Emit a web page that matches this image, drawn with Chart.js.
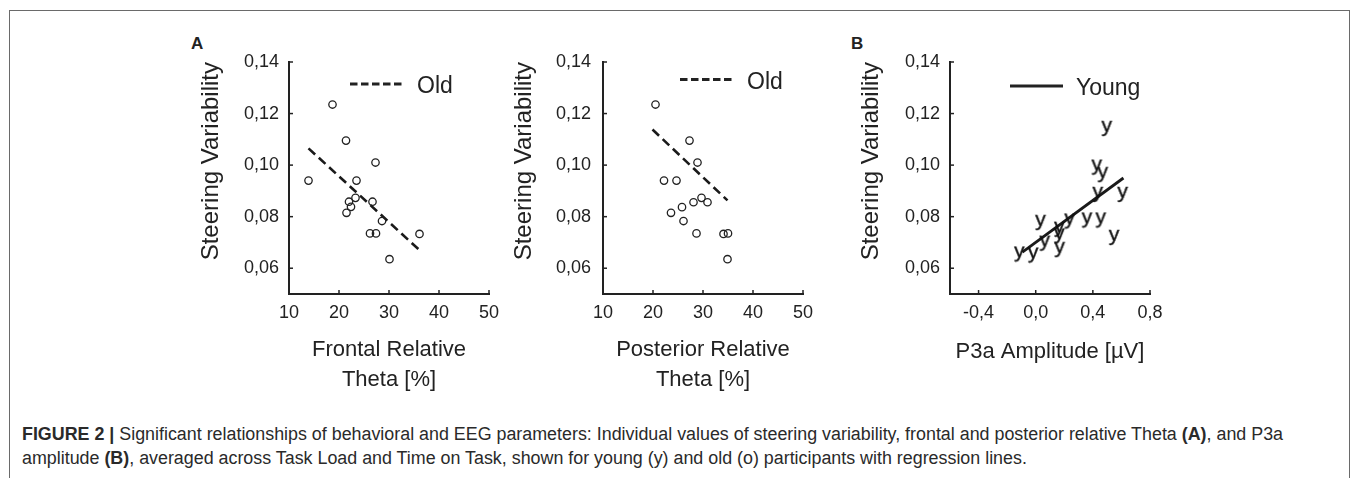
<!DOCTYPE html>
<html>
<head>
<meta charset="utf-8">
<script src="https://cdn.jsdelivr.net/npm/chart.js@4.4.1/dist/chart.umd.min.js"></script>
<style>
	body { margin: 0; background: #fff; width: 1355px; height: 478px; overflow: hidden; position: relative; }
	.frame { position: absolute; left: 9px; top: 10px; width: 1339px; height: 480px; border: 1.5px solid #6a6a6a; border-bottom: none; }
	canvas { position: absolute; top: 0; }
	.tag { position: absolute; font: bold 17px "Liberation Sans", Arial, sans-serif; color: #222; }
	.caption { position: absolute; left: 22px; top: 422px; font-family: "Liberation Sans", Arial, sans-serif; font-size: 18px; line-height: 24px; color: #2a2a2a; white-space: nowrap; transform-origin: left top; }
</style>
</head>
<body>
<div class="frame"></div>
<div class="tag" style="left:191px; top:34px;">A</div>
<div class="tag" style="left:851px; top:34px;">B</div>
<canvas id="frontalChart" width="330" height="400" style="left:180px"></canvas>
<canvas id="posteriorChart" width="334" height="400" style="left:490px"></canvas>
<canvas id="p3aChart" width="331" height="400" style="left:840px"></canvas>
<div class="caption" id="caption"><span id="captionLine1"><b>FIGURE 2 |</b> Significant relationships of behavioral and EEG parameters: Individual values of steering variability, frontal and posterior relative Theta <b>(A)</b>, and P3a</span><br>amplitude <b>(B)</b>, averaged across Task Load and Time on Task, shown for young (y) and old (o) participants with regression lines.</div>
<script>
const steerTicks = [0.06, 0.08, 0.1, 0.12, 0.14];
const thetaTicks = [10, 20, 30, 40, 50];
const p3aTicks = [-0.4, 0, 0.4, 0.8];

// old participants, frontal theta
const frontalTheta = [18.7, 21.4, 27.3, 13.9, 23.5, 23.3, 22.0, 22.4, 21.5, 26.7, 28.6, 26.2, 27.4, 36.1, 30.1];
const frontalSteer = [0.1235, 0.1095, 0.101, 0.094, 0.094, 0.0873, 0.0858, 0.0838, 0.0815, 0.0858, 0.0783, 0.0735, 0.0735, 0.0733, 0.0635];
const frontalFitX = [13.9, 36.0];
const frontalFitY = [0.1065, 0.0672];

// old participants, posterior theta
const posteriorTheta = [20.5, 27.3, 28.9, 22.2, 24.7, 29.7, 28.1, 30.9, 25.8, 23.6, 26.1, 28.7, 34.1, 35.0, 34.9];
const posteriorSteer = [0.1235, 0.1095, 0.101, 0.094, 0.094, 0.0873, 0.0856, 0.0856, 0.0837, 0.0815, 0.0783, 0.0735, 0.0733, 0.0735, 0.0635];
const posteriorFitX = [19.9, 34.9];
const posteriorFitY = [0.1138, 0.0863];

// young participants, P3a amplitude
const p3aAmp = [0.499, 0.429, 0.471, 0.436, 0.61, 0.035, 0.239, 0.36, 0.457, 0.167, 0.167, 0.55, 0.065, 0.169, -0.016, -0.113];
const p3aSteer = [0.1142, 0.0992, 0.0963, 0.0886, 0.0886, 0.0777, 0.0783, 0.0787, 0.0787, 0.0751, 0.0725, 0.0719, 0.0697, 0.0672, 0.0651, 0.0655];
const p3aFitX = [-0.093, 0.614];
const p3aFitY = [0.0662, 0.095];

const ink = "#222";
const fontFamily = "'Liberation Sans', Arial, sans-serif";
Chart.defaults.font.family = fontFamily;
Chart.defaults.color = ink;

// the caption in the figure is set in a condensed face
const caption = document.getElementById("caption");
const line1Width = document.getElementById("captionLine1").getBoundingClientRect().width;
caption.style.transform = `scaleX(${1261 / line1Width})`;

function toPoints(xs, ys) {
	return xs.map((x, i) => ({ x, y: ys[i] }));
}

function glyphMarker(ch, size) {
	const c = document.createElement("canvas");
	let ctx = c.getContext("2d");
	ctx.font = `${size}px ${fontFamily}`;
	const m = ctx.measureText(ch);
	c.width = Math.ceil(m.actualBoundingBoxLeft + m.actualBoundingBoxRight) + 2;
	c.height = Math.ceil(m.actualBoundingBoxAscent + m.actualBoundingBoxDescent) + 2;
	ctx = c.getContext("2d");
	ctx.font = `${size}px ${fontFamily}`;
	ctx.fillStyle = "#111";
	ctx.strokeStyle = "#111";
	ctx.lineWidth = 0.4;
	ctx.fillText(ch, 1 + m.actualBoundingBoxLeft, 1 + m.actualBoundingBoxAscent);
	ctx.strokeText(ch, 1 + m.actualBoundingBoxLeft, 1 + m.actualBoundingBoxAscent);
	return c;
}

// tick marks point into the plot, like the original
const innerTicks = {
	id: "innerTicks",
	afterDraw(chart) {
		const { ctx, chartArea: a, scales } = chart;
		ctx.save();
		ctx.strokeStyle = ink;
		ctx.lineWidth = 1.5;
		for (const t of scales.x.ticks) {
			const px = scales.x.getPixelForValue(t.value);
			if (px - a.left < 3) continue;
			ctx.beginPath();
			ctx.moveTo(px, a.bottom);
			ctx.lineTo(px, a.bottom - 4);
			ctx.stroke();
		}
		for (const t of scales.y.ticks) {
			const py = scales.y.getPixelForValue(t.value);
			ctx.beginPath();
			ctx.moveTo(a.left, py);
			ctx.lineTo(a.left + 4, py);
			ctx.stroke();
		}
		ctx.restore();
	},
};

const keyLine = {
	id: "keyLine",
	afterDraw(chart, args, o) {
		const ctx = chart.ctx;
		ctx.save();
		ctx.strokeStyle = ink;
		ctx.lineWidth = o.width;
		ctx.setLineDash(o.dash);
		ctx.beginPath();
		ctx.moveTo(o.x1, o.y);
		ctx.lineTo(o.x2, o.y);
		ctx.stroke();
		ctx.setLineDash([]);
		ctx.fillStyle = ink;
		ctx.font = `23px ${fontFamily}`;
		ctx.textBaseline = "alphabetic";
		ctx.fillText(o.text, o.tx, o.ty);
		ctx.restore();
	},
};

function makePanel(id, p) {
	return new Chart(document.getElementById(id), {
		type: "scatter",
		data: {
			datasets: [
				{
					data: p.points,
					pointStyle: p.marker,
					pointRadius: p.marker === "circle" ? 3.7 : 5,
					pointBorderWidth: 1.3,
					pointBorderColor: ink,
					pointBackgroundColor: "rgba(0,0,0,0)",
				},
				{
					data: p.fit,
					showLine: true,
					pointRadius: 0,
					borderColor: "#1a1a1a",
					borderWidth: p.fitWidth,
					borderDash: p.fitDash,
				},
			],
		},
		options: {
			responsive: false,
			animation: false,
			layout: { padding: { top: 62, right: p.right, left: 0, bottom: 0 } },
			plugins: {
				legend: { display: false },
				tooltip: { enabled: false },
				keyLine: p.key,
			},
			scales: {
				x: {
					type: "linear",
					min: p.xMin,
					max: p.xMax,
					afterBuildTicks: (s) => { s.ticks = p.xTicks.map((v) => ({ value: v })); },
					afterFit: (s) => { s.height = 106; },
					grid: { display: false, drawTicks: false, tickLength: 0 },
					border: { color: ink, width: 2 },
					ticks: { font: { size: 18 }, padding: 8, maxRotation: 0, callback: p.xFormat },
					title: {
						display: true,
						text: p.xTitle,
						font: { size: 22, lineHeight: 1.364 },
						padding: { top: 0, bottom: p.xTitlePad },
					},
				},
				y: {
					type: "linear",
					min: 0.05,
					max: 0.14,
					afterBuildTicks: (s) => { s.ticks = steerTicks.map((v) => ({ value: v })); },
					afterFit: (s) => { s.width = p.yWidth; },
					grid: { display: false, drawTicks: false, tickLength: 0 },
					border: { color: ink, width: 2 },
					ticks: { font: { size: 18 }, padding: p.yTickPad, callback: (v) => v.toFixed(2).replace(".", ",") },
					title: {
						display: true,
						text: "Steering Variability",
						align: "end",
						font: { size: 24 },
						padding: { top: p.yTitlePad, bottom: 0 },
					},
				},
			},
		},
		plugins: [innerTicks, keyLine],
	});
}

const circleMark = "circle";
const yMark = glyphMarker("y", 21);

makePanel("frontalChart", {
	points: toPoints(frontalTheta, frontalSteer),
	fit: toPoints(frontalFitX, frontalFitY),
	marker: circleMark,
	fitDash: [9, 5],
	fitWidth: 2.6,
	xMin: 10, xMax: 50, xTicks: thetaTicks,
	xFormat: (v) => String(v),
	xTitle: ["Frontal Relative", "Theta [%]"],
	xTitlePad: 5,
	yWidth: 109, yTickPad: 10, yTitlePad: 16.7, right: 21,
	key: { x1: 170, x2: 222, y: 84, dash: [7.5, 3.5], width: 2.8, text: "Old", tx: 237, ty: 93 },
});

makePanel("posteriorChart", {
	points: toPoints(posteriorTheta, posteriorSteer),
	fit: toPoints(posteriorFitX, posteriorFitY),
	marker: circleMark,
	fitDash: [9, 5],
	fitWidth: 2.6,
	xMin: 10, xMax: 50, xTicks: thetaTicks,
	xFormat: (v) => String(v),
	xTitle: ["Posterior Relative", "Theta [%]"],
	xTitlePad: 5,
	yWidth: 113, yTickPad: 12, yTitlePad: 19.7, right: 21,
	key: { x1: 190, x2: 243, y: 79.5, dash: [7.5, 3.5], width: 2.8, text: "Old", tx: 257, ty: 88.5 },
});

makePanel("p3aChart", {
	points: toPoints(p3aAmp, p3aSteer),
	fit: toPoints(p3aFitX, p3aFitY),
	marker: yMark,
	fitDash: [],
	fitWidth: 2.8,
	xMin: -0.6, xMax: 0.8, xTicks: p3aTicks,
	xFormat: (v) => v.toFixed(1).replace(".", ","),
	xTitle: "P3a Amplitude [µV]",
	xTitlePad: 33,
	yWidth: 110, yTickPad: 10, yTitlePad: 17.2, right: 21,
	key: { x1: 170, x2: 223, y: 86, dash: [], width: 3, text: "Young", tx: 236, ty: 95 },
});
</script>
</body>
</html>
